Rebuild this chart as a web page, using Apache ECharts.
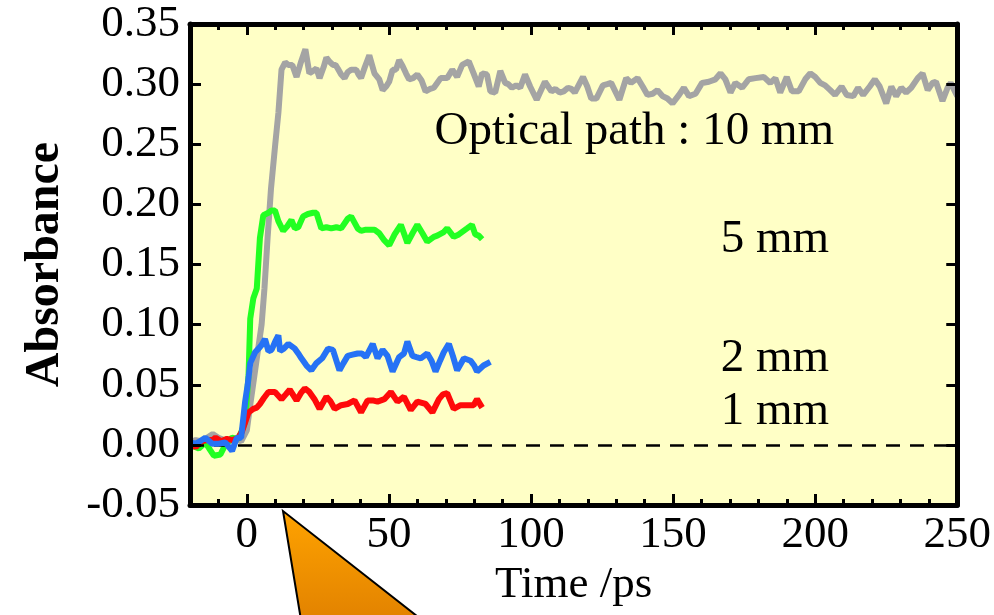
<!DOCTYPE html>
<html>
<head>
<meta charset="utf-8">
<script src="https://cdn.jsdelivr.net/npm/echarts@6/dist/echarts.min.js"></script>
<style>html,body{margin:0;padding:0;background:#fff}#c{width:994px;height:615px}</style>
</head>
<body>
<div id="c"></div>
<script>
const xTickLabels = [0, 50, 100, 150, 200, 250];
const yTickLabels = ['-0.05','0.00','0.05','0.10','0.15','0.20','0.25','0.30','0.35'];

const timeGray = [-20,-18,-16,-14,-12,-10,-8,-6,-4,-2,0,1,2.5,4,5.2,6.2,7.3,8.5,10,11.1,12.2,13.5,14.6,16,17.5,19,20.6,22,23.3,24.5,25.6,27,28,29,30.3,31.2,32,33.2,34.4,35.5,36.7,38.5,39.3,40.2,41.5,43.1,44.9,46.6,47.8,49,50.1,51.3,52.5,53.6,54.8,56,57.1,58.5,60,61.5,62.9,64.5,65.8,67,68.2,70.5,72.3,74,75.8,78.1,79.8,81.6,82.8,84.5,85.7,87.4,89.2,90.9,92,93.3,94.8,96.2,97.9,99.7,102,104.9,107.2,108.6,110.1,111.5,113,114.2,115.4,118.3,119.8,121.2,123,125.3,126.8,128.2,131.1,133.5,135.2,137.5,139.3,141,142.8,144.5,146.3,148,149.8,152.1,153.8,155.6,157.9,160.2,162.6,164.9,166.7,168.4,170.2,171.9,174.3,176.6,179,181.9,184.2,186,187.7,190,191.8,194.2,196.5,198.3,200,201.8,203.5,205.3,207,209.3,211.1,213.4,215.1,216.9,219.2,221,222.7,225,226.8,228.5,230.3,232,233.8,236.1,237.8,239.6,241.3,242.5,244.8,246.6,247.7,250];
const absGray = [0.002,0.004,0.003,0.006,0.009,0.006,0.004,0.003,0.005,0.003,0.012,0.030,0.055,0.080,0.100,0.130,0.172,0.213,0.250,0.276,0.312,0.318,0.316,0.316,0.306,0.318,0.329,0.309,0.311,0.313,0.305,0.314,0.322,0.319,0.316,0.316,0.313,0.308,0.305,0.310,0.312,0.312,0.308,0.305,0.314,0.324,0.309,0.304,0.295,0.298,0.302,0.312,0.312,0.320,0.315,0.309,0.304,0.305,0.308,0.303,0.294,0.296,0.297,0.301,0.305,0.305,0.312,0.306,0.316,0.319,0.309,0.298,0.309,0.308,0.294,0.293,0.311,0.301,0.300,0.297,0.299,0.297,0.308,0.298,0.287,0.302,0.294,0.296,0.293,0.294,0.297,0.296,0.293,0.306,0.298,0.288,0.288,0.299,0.300,0.301,0.287,0.305,0.301,0.305,0.298,0.291,0.292,0.295,0.290,0.288,0.284,0.291,0.297,0.290,0.292,0.301,0.302,0.304,0.309,0.304,0.293,0.301,0.297,0.304,0.305,0.306,0.301,0.305,0.293,0.306,0.294,0.294,0.304,0.309,0.306,0.301,0.299,0.295,0.291,0.298,0.291,0.290,0.297,0.291,0.298,0.304,0.298,0.284,0.298,0.290,0.297,0.293,0.297,0.305,0.309,0.295,0.301,0.302,0.286,0.297,0.301,0.290];

const timeGreen = [-20,-18,-16.9,-14.6,-13,-11.6,-9.3,-7.6,-5.2,-2.9,-0.6,0.6,1.2,2.3,3.5,4.6,5.8,7.6,8.7,9.9,11.1,12.8,14.3,15.7,16.9,18.1,19.8,21.5,23.3,24.5,26.2,28,29.7,31.5,33.2,35.5,36.7,39,40.2,41.9,43.7,44.9,46.6,48.4,50.1,52,54.2,56.5,58.3,60,61.8,63.5,65.8,67,69.3,70.5,72.8,74.6,77.5,79.2,80.4,81.6,82.8];
const absGreen = [0.000,-0.002,-0.003,0.002,-0.004,-0.009,-0.008,0.000,0.006,0.005,0.019,0.058,0.105,0.122,0.130,0.172,0.191,0.193,0.195,0.195,0.186,0.178,0.182,0.187,0.180,0.181,0.190,0.192,0.193,0.193,0.180,0.181,0.180,0.181,0.180,0.188,0.190,0.180,0.178,0.179,0.179,0.179,0.176,0.170,0.166,0.175,0.183,0.168,0.176,0.183,0.176,0.169,0.173,0.174,0.177,0.180,0.173,0.175,0.180,0.183,0.175,0.174,0.171];

const timeBlue = [-20,-18,-16.5,-14.6,-12.2,-9.9,-7.6,-5.2,-3.5,-2,-0.6,0.3,1.2,2.9,4.1,5.2,6.4,7.6,8.7,10,11.1,11.7,13,14.6,16.9,18.1,19.2,21,22.7,24.5,25.1,26.5,28.6,30.3,30.9,32.6,34,35.5,37.2,39,40.5,41.9,44.3,46,47.8,49.5,51.3,53.6,55.3,56.5,58.3,59.7,61.2,63.5,65,66.4,68,69.3,71.1,72.5,74,76.4,78.7,80,81,83.3,85.7];
const absBlue = [0.002,0.001,0.003,0.006,0.001,0.001,0.002,-0.005,0.006,0.006,0.036,0.050,0.068,0.077,0.080,0.083,0.088,0.078,0.079,0.086,0.091,0.078,0.080,0.084,0.080,0.076,0.072,0.066,0.062,0.068,0.069,0.072,0.080,0.079,0.080,0.062,0.068,0.074,0.075,0.076,0.076,0.073,0.084,0.072,0.079,0.074,0.061,0.073,0.076,0.086,0.074,0.073,0.072,0.076,0.070,0.061,0.070,0.077,0.084,0.074,0.062,0.072,0.070,0.066,0.061,0.066,0.069];

const timeRed = [-20,-18,-16,-14,-12,-11,-9,-7,-5,-3,-1.7,0.6,2.3,3.5,4.6,6,7.6,9.9,12.2,13.7,15.1,17.5,19,20.4,22,23.8,25.6,28,29.5,30.9,33.2,35.5,37.9,40.2,42.5,44.3,46,48.4,50.7,53,55.3,57.7,60,62.9,65.3,67.6,69,70.5,72.8,75.2,77.5,79.8,81,82.8];
const absRed = [0.002,-0.002,0.003,0.004,0.004,0.006,0.003,0.005,0.004,0.006,0.011,0.027,0.030,0.031,0.034,0.039,0.044,0.044,0.038,0.042,0.046,0.037,0.043,0.047,0.044,0.038,0.030,0.040,0.036,0.030,0.033,0.034,0.037,0.027,0.037,0.037,0.036,0.038,0.044,0.036,0.040,0.029,0.036,0.034,0.027,0.038,0.042,0.043,0.030,0.033,0.033,0.033,0.038,0.031];

const seriesNames = ['10 mm', '5 mm', '2 mm', '1 mm'];
const annotationTexts = ['Optical path : 10 mm', '5 mm', '2 mm', '1 mm'];

function zip(t, a) { return t.map((v, i) => [v, a[i]]); }

const FONT = 'Liberation Serif, Times New Roman, serif';
const minorTicks = [];
for (let v = -20; v <= 250; v += 10) { if (v % 50 !== 0) minorTicks.push(v); }

const chart = echarts.init(document.getElementById('c'), null, {renderer: 'canvas'});

function xAx(pos, showLabel, ticks, len, showLine, name) {
  return {
    type: 'value', position: pos, min: -20, max: 250, z: 10,
    name: name || '', nameLocation: 'middle', nameGap: 46,
    nameTextStyle: {fontFamily: FONT, fontSize: 45, color: '#000'},
    axisLine: {show: showLine, onZero: false, lineStyle: {color: '#000', width: 5}},
    axisTick: {show: true, inside: true, length: len, customValues: ticks, lineStyle: {color: '#000', width: 3}},
    axisLabel: {show: showLabel, customValues: xTickLabels, margin: 8, fontFamily: FONT, fontSize: 45, color: '#000'},
    splitLine: {show: false}
  };
}
function yAx(pos, showLabel, name) {
  return {
    type: 'value', position: pos, min: -0.05, max: 0.35, interval: 0.05, z: 10,
    name: name || '', nameLocation: 'middle', nameRotate: 90, nameGap: 120,
    nameTextStyle: {fontFamily: FONT, fontSize: 48, fontWeight: 'bold', color: '#000'},
    axisLine: {show: true, onZero: false, lineStyle: {color: '#000', width: 5}},
    axisTick: {show: true, inside: true, length: 11, lineStyle: {color: '#000', width: 3}},
    axisLabel: {show: showLabel, margin: 10, fontFamily: FONT, fontSize: 45, color: '#000',
      formatter: v => yTickLabels[Math.round((v + 0.05) / 0.05)]},
    splitLine: {show: false}
  };
}

const option = {
  animation: false,
  backgroundColor: '#ffffff',
  grid: {left: 190, right: 36, top: 24, bottom: 110, show: true, backgroundColor: '#FFFFC6', borderWidth: 0},
  xAxis: [
    xAx('bottom', true, xTickLabels, 11, true, 'Time /ps'),
    xAx('bottom', false, minorTicks, 6, false),
    xAx('top', false, xTickLabels, 11, true),
    xAx('top', false, minorTicks, 6, false)
  ],
  yAxis: [
    yAx('left', true, 'Absorbance'),
    yAx('right', false)
  ],
  series: [
    {name: seriesNames[0], type: 'line', data: zip(timeGray, absGray), symbol: 'none',
      lineStyle: {color: '#A4A4A4', width: 6}, z: 2,
      markLine: {silent: true, symbol: ['none', 'none'], label: {show: false},
        lineStyle: {color: '#000', type: [14, 10], width: 2.5}, data: [{yAxis: 0}]}},
    {name: seriesNames[1], type: 'line', data: zip(timeGreen, absGreen), symbol: 'none',
      lineStyle: {color: '#22FF22', width: 6}, z: 3},
    {name: seriesNames[3], type: 'line', data: zip(timeRed, absRed), symbol: 'none',
      lineStyle: {color: '#FF0A0A', width: 6}, z: 4},
    {name: seriesNames[2], type: 'line', data: zip(timeBlue, absBlue), symbol: 'none',
      lineStyle: {color: '#2672F5', width: 6}, z: 5}
  ],
  graphic: [
    {type: 'text', right: 994 - 834, top: 108, style: {text: annotationTexts[0], font: '47px ' + FONT, fill: '#000'}},
    {type: 'text', right: 994 - 829, top: 216, style: {text: annotationTexts[1], font: '47px ' + FONT, fill: '#000'}},
    {type: 'text', right: 994 - 829, top: 335, style: {text: annotationTexts[2], font: '47px ' + FONT, fill: '#000'}},
    {type: 'text', right: 994 - 829, top: 388, style: {text: annotationTexts[3], font: '47px ' + FONT, fill: '#000'}},
    {type: 'polygon', z: 100,
      shape: {points: [[283, 511], [301, 620], [422, 620]]},
      style: {fill: new echarts.graphic.LinearGradient(0, 0, 0, 1, [{offset: 0, color: '#FFA300'}, {offset: 1, color: '#E28200'}]),
        stroke: '#000', lineWidth: 2}}
  ]
};
chart.setOption(option);
</script>
</body>
</html>
